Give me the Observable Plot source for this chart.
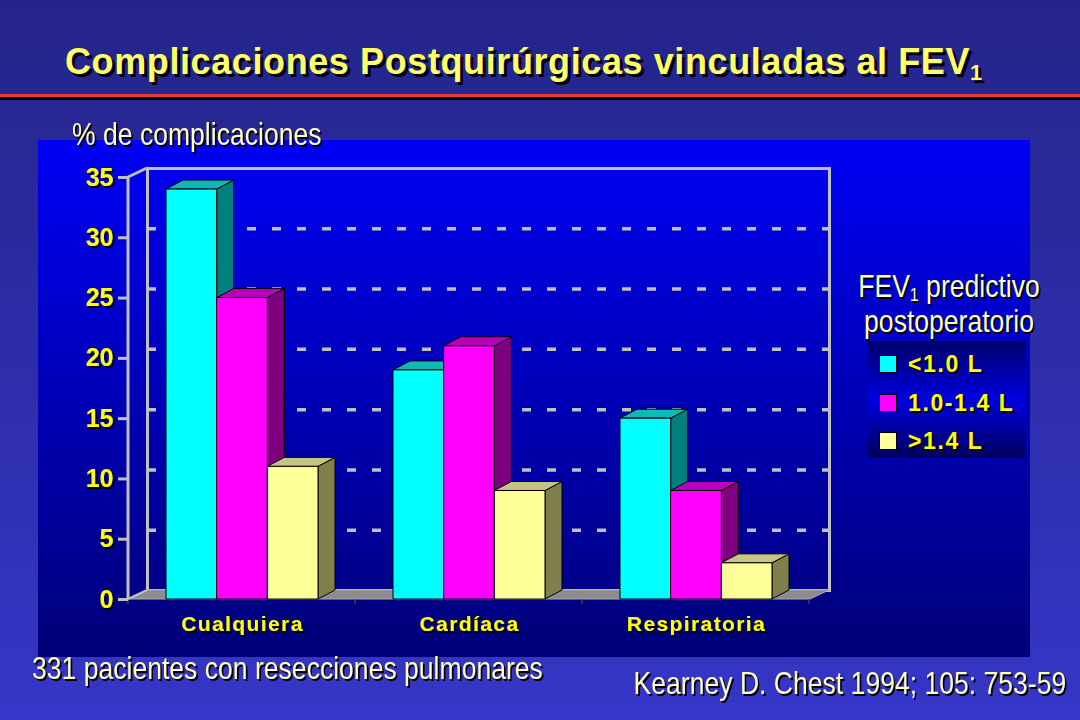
<!DOCTYPE html>
<html><head><meta charset="utf-8">
<script src="https://cdn.jsdelivr.net/npm/d3@7"></script>
<script src="https://cdn.jsdelivr.net/npm/@observablehq/plot@0.6"></script>
<style>
html,body{margin:0;padding:0}
body{width:1080px;height:720px;overflow:hidden;position:relative;background:linear-gradient(#24248a,#3636c8);font-family:"Liberation Sans",Arial,sans-serif}
.abs{position:absolute;white-space:nowrap;line-height:1}
.title{left:65px;top:44px;font-size:36px;font-weight:bold;color:#ffff66;letter-spacing:0.6px;text-shadow:3px 3px 0 #000}
.title sub{font-size:0.6em;vertical-align:-0.3em;line-height:0}
.narrow{font-size:32px;color:#ffffc8;text-shadow:2px 2px 0 #000;transform:scaleX(0.83)}
.lg{font-size:23px;font-weight:bold;color:#ffff00;letter-spacing:1.6px;text-shadow:2px 2px 0 #000}
.sw{width:18px;height:18px;box-sizing:border-box;border:1px solid #000}
</style>
</head><body>
<div class="abs" style="left:0;top:94px;width:1080px;height:3px;background:#e03a3a"></div>
<div class="abs" style="left:0;top:97px;width:1080px;height:3px;background:#000"></div>
<div class="abs title" id="title"></div>
<div id="area" class="abs" style="left:38px;top:140px;width:992px;height:517px;background:linear-gradient(#0000f5,#000078)"></div>
<div class="abs narrow" id="ylabel" style="left:72px;top:118px;transform-origin:left center"></div>
<div id="legend"></div>
<div class="abs narrow" id="note" style="left:32px;top:652px;transform-origin:left center"></div>
<div class="abs narrow" id="ref" style="right:14px;top:667px;transform-origin:right center"></div>
<script>
// ---- data ----
const categories = ["Cualquiera", "Cardíaca", "Respiratoria"];
const series = ["<1.0 L", "1.0-1.4 L", ">1.4 L"];
const valuesLt10 = [34, 19, 15];
const values10to14 = [25, 21, 9];
const valuesGt14 = [11, 9, 3];
const yTicks = [0, 5, 10, 15, 20, 25, 30, 35];
const gridTicks = [5, 10, 15, 20, 25, 30];
const titleText = ["Complicaciones Postquirúrgicas vinculadas al FEV", "1"];
const yLabelText = "% de complicaciones";
const legendTitle = ["FEV", "1", " predictivo", "postoperatorio"];
const noteText = "331 pacientes con resecciones pulmonares";
const refText = "Kearney D. Chest 1994; 105: 753-59";

const seriesValues = [valuesLt10, values10to14, valuesGt14];
const rows = [];
categories.forEach((c, ci) => series.forEach((s, si) => rows.push({category: c, series: s, value: seriesValues[si][ci]})));

const frontColors = ["#00ffff", "#ff00ff", "#ffff99"];
const topColors = ["#10b8b8", "#b800b8", "#c4c484"];
const sideColors = ["#007f7f", "#7f007f", "#80804e"];
const WDX = 19, WDY = 9;   // wall depth
const BDX = 17, BDY = 9;   // bar depth

function bw(x) { return typeof x.bandwidth === "function" ? x.bandwidth() : x.bandwidth; }

function walls(index, scales) {
  const {x, y} = scales;
  const [xL, xR] = x.range();
  const y0 = y(0), yT = y(y.domain()[1]);
  const g = d3.create("svg:g");
  g.append("polygon")
    .attr("points", [[xL, y0], [xR, y0], [xR + WDX, y0 - WDY], [xL + WDX, y0 - WDY]].join(" "))
    .attr("fill", "#8c8c8c").attr("stroke", "#a8a8a8").attr("stroke-width", 1);
  const step = typeof x.step === "function" ? x.step() : (xR - xL) / categories.length;
  for (let i = 0; i <= categories.length; i++) {
    const xi = xL + i * step;
    g.append("line").attr("x1", xi).attr("x2", xi).attr("y1", y0).attr("y2", y0 + 5)
      .attr("stroke", "#404060").attr("stroke-width", 1.5);
  }
  g.append("line").attr("x1", xL).attr("x2", xL).attr("y1", y0).attr("y2", yT)
    .attr("stroke", "#c0c0c0").attr("stroke-width", 3);
  g.append("line").attr("x1", xL).attr("x2", xL + WDX).attr("y1", yT).attr("y2", yT - WDY)
    .attr("stroke", "#c0c0c0").attr("stroke-width", 3);
  g.append("line").attr("x1", xL).attr("x2", xL + WDX).attr("y1", y0).attr("y2", y0 - WDY)
    .attr("stroke", "#c0c0c0").attr("stroke-width", 2);
  return g.node();
}

function bars3d(index, scales) {
  const {x, y} = scales;
  const sub = d3.scaleBand().domain(series).range([0, bw(x)]);
  const w = sub.bandwidth();
  const y0 = y(0);
  const g = d3.create("svg:g").attr("stroke", "#000").attr("stroke-width", 1).attr("stroke-linejoin", "round");
  for (const r of rows) {
    const si = series.indexOf(r.series);
    const x0 = x(r.category) + sub(r.series), x1 = x0 + w, yv = y(r.value);
    g.append("polygon")
      .attr("points", [[x1, y0], [x1 + BDX, y0 - BDY], [x1 + BDX, yv - BDY], [x1, yv]].join(" "))
      .attr("fill", sideColors[si]);
    g.append("polygon")
      .attr("points", [[x0, yv], [x0 + BDX, yv - BDY], [x1 + BDX, yv - BDY], [x1, yv]].join(" "))
      .attr("fill", topColors[si]);
    g.append("rect").attr("x", x0).attr("y", yv).attr("width", w).attr("height", y0 - yv)
      .attr("fill", frontColors[si]);
  }
  return g.node();
}

const font = {fontSize: 25, fontWeight: "bold", fontFamily: "Liberation Sans, Arial, sans-serif"};
const xfont = {fontSize: 21, fontWeight: "bold", fontFamily: "Liberation Sans, Arial, sans-serif"};

const chart = Plot.plot({
  width: 992, height: 517,
  marginLeft: 90, marginRight: 220, marginTop: 37, marginBottom: 58,
  style: {background: "transparent", overflow: "visible"},
  x: {type: "band", domain: categories, paddingInner: 0.33, paddingOuter: 0.165, label: null},
  y: {domain: [0, 35], label: null},
  marks: [
    Plot.ruleY(gridTicks, {dx: WDX, dy: -WDY, stroke: "#c0c0c0", strokeWidth: 3.5, strokeDasharray: "9 16"}),
    Plot.frame({dx: WDX, dy: -WDY, stroke: "#c0c0c0", strokeWidth: 3}),
    walls,
    bars3d,
    Plot.axisY(yTicks, {anchor: "left", tickSize: 10, tickPadding: 5, fill: "#ffff00", stroke: "#c0c0c0", strokeWidth: 3, label: null, ...font}),
    Plot.axisX(categories, {anchor: "bottom", tickSize: 0, tickPadding: 17, fill: "#ffff00", label: null, ...xfont})
  ]
});
const svg = d3.select(chart);
svg.insert("defs", ":first-child").append("filter").attr("id", "tshadow")
  .attr("x", "-10%").attr("y", "-10%").attr("width", "130%").attr("height", "140%")
  .append("feDropShadow").attr("dx", 2).attr("dy", 2).attr("stdDeviation", 0)
  .attr("flood-color", "#000").attr("flood-opacity", 1);
svg.selectAll("g[aria-label='y-axis tick label'], g[aria-label='x-axis tick label']").attr("filter", "url(#tshadow)");
svg.selectAll("g[aria-label='x-axis tick label']").style("letter-spacing", "1.4px");
document.getElementById("area").appendChild(chart);

document.getElementById("title").innerHTML = titleText[0] + "<sub>" + titleText[1] + "</sub>";
document.getElementById("ylabel").textContent = yLabelText;
document.getElementById("note").textContent = noteText;
document.getElementById("ref").textContent = refText;

// legend
const leg = document.getElementById("legend");
const lt1 = document.createElement("div");
lt1.className = "abs narrow";
lt1.style.cssText = "left:949px;top:270px;transform:translateX(-50%) scaleX(0.83);transform-origin:center";
lt1.innerHTML = legendTitle[0] + "<sub style='font-size:0.6em;vertical-align:-0.2em;line-height:0'>" + legendTitle[1] + "</sub>" + legendTitle[2];
leg.appendChild(lt1);
const lt2 = document.createElement("div");
lt2.className = "abs narrow";
lt2.style.cssText = "left:949px;top:305px;transform:translateX(-50%) scaleX(0.83);transform-origin:center";
lt2.textContent = legendTitle[3];
leg.appendChild(lt2);
const box = document.createElement("div");
box.className = "abs";
box.style.cssText = "left:867px;top:341px;width:159px;height:117px;background:linear-gradient(#00006c,#0000e0 50%,#00005c)";
leg.appendChild(box);
const rowCenters = [364, 403, 441];
series.forEach((s, i) => {
  const sw = document.createElement("div");
  sw.className = "abs sw";
  sw.style.cssText = `left:879px;top:${rowCenters[i] - 9}px;background:${frontColors[i]}`;
  leg.appendChild(sw);
  const t = document.createElement("div");
  t.className = "abs lg";
  t.style.cssText = `left:908px;top:${rowCenters[i] - 11}px`;
  t.textContent = s;
  leg.appendChild(t);
});
</script>
</body></html>
